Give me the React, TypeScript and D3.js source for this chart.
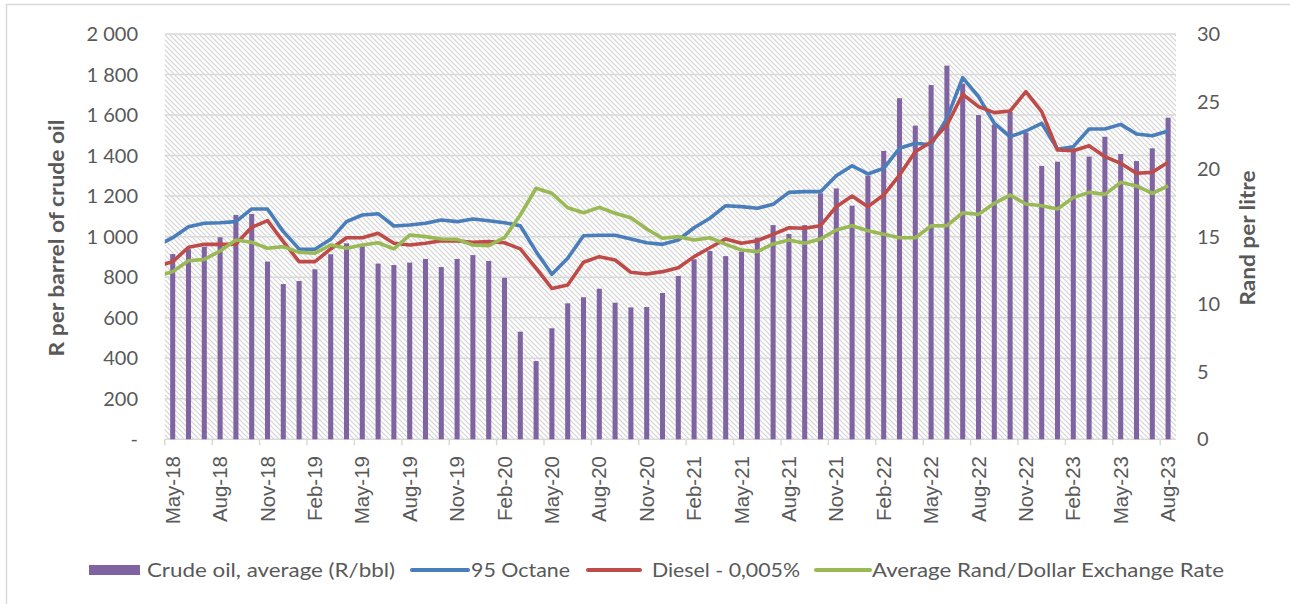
import React from "react";
import * as d3 from "d3";

const months = [
  "May-18","Jun-18","Jul-18","Aug-18","Sep-18","Oct-18","Nov-18","Dec-18",
  "Jan-19","Feb-19","Mar-19","Apr-19","May-19","Jun-19","Jul-19","Aug-19","Sep-19","Oct-19","Nov-19","Dec-19",
  "Jan-20","Feb-20","Mar-20","Apr-20","May-20","Jun-20","Jul-20","Aug-20","Sep-20","Oct-20","Nov-20","Dec-20",
  "Jan-21","Feb-21","Mar-21","Apr-21","May-21","Jun-21","Jul-21","Aug-21","Sep-21","Oct-21","Nov-21","Dec-21",
  "Jan-22","Feb-22","Mar-22","Apr-22","May-22","Jun-22","Jul-22","Aug-22","Sep-22","Oct-22","Nov-22","Dec-22",
  "Jan-23","Feb-23","Mar-23","Apr-23","May-23","Jun-23","Jul-23","Aug-23",
];
// line series also carry the preceding month (partly visible at the left edge)
const lineMonths = ["Apr-18", ...months];

const crudeOil = [
  914, 938, 950, 997, 1107, 1112, 877, 766, 781, 839, 913, 967, 952, 867, 860, 872,
  890, 850, 890, 909, 880, 797, 531, 386, 548, 671, 701, 743, 674, 651, 653, 722,
  806, 888, 929, 904, 926, 995, 1057, 1013, 1057, 1214, 1238, 1153, 1301, 1423, 1683, 1548,
  1748, 1844, 1755, 1600, 1553, 1615, 1513, 1349, 1370, 1436, 1395, 1493, 1408, 1373, 1436, 1587,
];
const octane95 = [
  14.33,
  14.92, 15.74, 15.99, 16.03, 16.11, 17.05, 17.05, 15.37, 14.09, 14.06, 14.8, 16.11, 16.6, 16.7, 15.79, 15.86,
  15.99, 16.23, 16.11, 16.31, 16.18, 16.03, 15.81, 13.89, 12.21, 13.4, 15.07, 15.1, 15.1, 14.83, 14.55, 14.43,
  14.75, 15.66, 16.36, 17.29, 17.22, 17.1, 17.39, 18.28, 18.33, 18.33, 19.51, 20.25, 19.64, 20.06, 21.54, 21.91,
  21.8, 23.76, 26.77, 25.36, 23.39, 22.4, 22.82, 23.39, 21.46, 21.66, 22.97, 22.97, 23.31, 22.6, 22.47, 22.82,
];
const diesel = [
  12.8,
  13.15, 14.21, 14.43, 14.43, 14.45, 15.69, 16.18, 14.63, 13.15, 13.15, 14.09, 14.92, 14.92, 15.25, 14.51, 14.38,
  14.51, 14.7, 14.68, 14.58, 14.63, 14.55, 14.09, 12.66, 11.17, 11.42, 13.1, 13.52, 13.27, 12.36, 12.24, 12.41,
  12.7, 13.52, 14.18, 14.83, 14.51, 14.7, 15.17, 15.66, 15.62, 15.81, 17.22, 18.01, 17.22, 18.08, 19.56, 21.29,
  22.0, 23.26, 25.54, 24.62, 24.18, 24.3, 25.73, 24.25, 21.41, 21.36, 21.73, 20.92, 20.43, 19.69, 19.76, 20.5,
];
const exchangeRate = [
  12.06,
  12.41, 13.22, 13.32, 13.94, 14.75, 14.58, 14.14, 14.26, 13.84, 13.77, 14.38, 14.14, 14.38, 14.55, 14.09, 15.12,
  15.0, 14.83, 14.8, 14.38, 14.33, 14.92, 16.6, 18.58, 18.21, 17.14, 16.77, 17.17, 16.73, 16.4, 15.57, 14.88,
  15.0, 14.75, 14.92, 14.43, 14.01, 13.89, 14.46, 14.75, 14.51, 14.83, 15.49, 15.81, 15.44, 15.17, 14.92, 14.92,
  15.8, 15.81, 16.77, 16.65, 17.47, 18.08, 17.42, 17.29, 17.05, 17.89, 18.28, 18.13, 19.02, 18.75, 18.21, 18.75,
];
const leftTicks = [0, 200, 400, 600, 800, 1000, 1200, 1400, 1600, 1800, 2000];
const rightTicks = [0, 5, 10, 15, 20, 25, 30];

const W = 1290, H = 604;
const L = 164.8, R = 1176, T = 34, B = 439.3;
const GRID = "#d9d9d9";
const TXT = "#595959";
const FONT = "Lato, 'Open Sans', sans-serif";

export default function App() {
  const x = d3.scaleBand<string>().domain(months).range([L, R]).paddingInner(0.68).paddingOuter(0.34);
  const step = x.step();
  const xl = d3.scalePoint<string>().domain(lineMonths).range([L - step / 2, R - step / 2]);
  const yL = d3.scaleLinear().domain([0, 2000]).range([B, T]);
  const yR = d3.scaleLinear().domain([0, 30]).range([B, T]);
  const fmt = (v: number) => (v === 0 ? "-" : d3.format(",")(v).replace(",", " "));

  const mk = (vals: number[]) =>
    d3.line<number>().x((_, i) => xl(lineMonths[i]) as number).y((v) => yR(v))(vals) as string;

  const series = [
    { name: "95 Octane", vals: octane95, color: "#4a7ebb" },
    { name: "Diesel - 0,005%", vals: diesel, color: "#be4b48" },
    { name: "Average Rand/Dollar Exchange Rate", vals: exchangeRate, color: "#98b954" },
  ];

  const tickIdx = months.map((_, i) => i).filter((i) => i % 3 === 0);

  return (
    <svg width={W} height={H} style={{ position: "absolute", left: 0, top: 0, background: "#fff" }} fontFamily={FONT}>
      <defs>
        <pattern id="hatch" patternUnits="userSpaceOnUse" width="5" height="5">
          <rect width="5" height="5" fill="#fff" />
          <path d="M-1,-1 L6,6 M-1,4 L1,6 M4,-1 L6,1" stroke="#d4d4d4" strokeWidth="1.2" />
        </pattern>
        <clipPath id="plotclip">
          <rect x={L} y={T - 10} width={R - L} height={B - T + 10} />
        </clipPath>
      </defs>
      <rect x={6.5} y={4.5} width={1400} height={700} fill="none" stroke={GRID} strokeWidth={1.5} />
      <rect x={L} y={T} width={R - L} height={B - T} fill="url(#hatch)" />
      {leftTicks.map((t) => (
        <line key={t} x1={L} x2={R} y1={yL(t)} y2={yL(t)} stroke={GRID} strokeWidth={1.5} />
      ))}
      {tickIdx.map((i) => {
        const xx = (x(months[i]) as number) - (step - x.bandwidth()) / 2;
        return <line key={i} x1={xx} x2={xx} y1={B} y2={B + 6} stroke={GRID} strokeWidth={1.5} />;
      })}
      {crudeOil.map((v, i) => (
        <rect key={i} x={x(months[i])} y={yL(v)} width={x.bandwidth()} height={B - yL(v)} fill="#8064a2" />
      ))}
      <g clipPath="url(#plotclip)">
        {series.map((s) => (
          <path key={s.name} d={mk(s.vals)} fill="none" stroke={s.color} strokeWidth={3.6} strokeLinejoin="round" />
        ))}
      </g>
      {leftTicks.map((t) => (
        <text key={t} x={138} y={yL(t)} dy="0.35em" textAnchor="end" fontSize={20} fill={TXT}>
          {fmt(t)}
        </text>
      ))}
      {rightTicks.map((t) => (
        <text key={t} x={1197} y={yR(t)} dy="0.35em" textAnchor="start" fontSize={20} fill={TXT}>
          {t}
        </text>
      ))}
      {tickIdx.map((i) => {
        const cx = (x(months[i]) as number) + x.bandwidth() / 2;
        return (
          <text key={i} transform={`translate(${cx},456) rotate(-90)`} dy="0.35em" textAnchor="end"
            fontSize={20.5} fill={TXT} fontFamily="'Liberation Sans', Arial, sans-serif">
            {months[i]}
          </text>
        );
      })}
      <text transform={`translate(57,238) rotate(-90)`} dy="0.35em" textAnchor="middle" fontSize={20}
        fontWeight="bold" fill={TXT} textLength={237} lengthAdjust="spacingAndGlyphs">
        R per barrel of crude oil
      </text>
      <text transform={`translate(1248,238) rotate(-90)`} dy="0.35em" textAnchor="middle" fontSize={20}
        fontWeight="bold" fill={TXT} textLength={135} lengthAdjust="spacingAndGlyphs">
        Rand per litre
      </text>
      {/* legend */}
      <rect x={89} y={565} width={51} height={10} fill="#8064a2" />
      <text x={147} y={570} dy="0.35em" fontSize={20} fill={TXT} textLength={248} lengthAdjust="spacingAndGlyphs">
        Crude oil, average (R/bbl)
      </text>
      <line x1={412} x2={468} y1={570} y2={570} stroke={series[0].color} strokeWidth={4} strokeLinecap="round" />
      <text x={471} y={570} dy="0.35em" fontSize={20} fill={TXT} textLength={99} lengthAdjust="spacingAndGlyphs">
        95 Octane
      </text>
      <line x1={588} x2={640} y1={570} y2={570} stroke={series[1].color} strokeWidth={4} strokeLinecap="round" />
      <text x={652} y={570} dy="0.35em" fontSize={20} fill={TXT} textLength={148} lengthAdjust="spacingAndGlyphs">
        Diesel - 0,005%
      </text>
      <line x1={816} x2={870} y1={570} y2={570} stroke={series[2].color} strokeWidth={4} strokeLinecap="round" />
      <text x={872} y={570} dy="0.35em" fontSize={20} fill={TXT} textLength={352} lengthAdjust="spacingAndGlyphs">
        Average Rand/Dollar Exchange Rate
      </text>
    </svg>
  );
}
